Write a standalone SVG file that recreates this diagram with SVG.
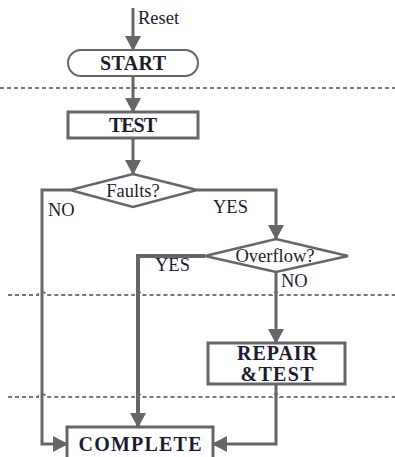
<svg xmlns="http://www.w3.org/2000/svg" width="395" height="457" viewBox="0 0 395 457">
<style>
.bg{fill:#fff}
.node{fill:#fff;stroke:#666;stroke-width:3}
.dia{fill:#fff;stroke:#666;stroke-width:2.5}
.con{fill:none;stroke:#666;stroke-width:3}
.sep{fill:none;stroke:#777;stroke-width:2;stroke-dasharray:4 3}
.t{font-family:"Liberation Serif","Times New Roman",serif;fill:#1c1c30}
.b{font-weight:bold;font-size:20px;text-anchor:middle}
.n{font-size:18.5px}
</style>
<defs>
<marker id="arr" markerUnits="userSpaceOnUse" markerWidth="16" markerHeight="16" refX="14" refY="8" orient="auto">
<path d="M0,0 L15,8 L0,16 z" fill="#666"/>
</marker>
</defs>
<rect class="bg" x="0" y="0" width="395" height="457"/>
<g id="separators">
<path class="sep" d="M0,88 H395"/>
<path class="sep" d="M8,295 H38 a4,3 0 0 1 8,0 H134 a4,3 0 0 1 8,0 H272 a4,3 0 0 1 8,0 H395"/>
<path class="sep" d="M8,397 H38 a4,3 0 0 1 8,0 H134 a4,3 0 0 1 8,0 H272 a4,3 0 0 1 8,0 H395"/>
</g>
<g id="connectors">
<path class="con" d="M133,8 V50" marker-end="url(#arr)"/>
<path class="con" d="M133,76 V112" marker-end="url(#arr)"/>
<path class="con" d="M133,138 V174" marker-end="url(#arr)"/>
<path class="con" d="M70,190 H42 V444 H67" marker-end="url(#arr)"/>
<path class="con" d="M197,190 H276 V239" marker-end="url(#arr)"/>
<path class="con" style="stroke-width:4" d="M205,256 H138 V427" marker-end="url(#arr)"/>
<path class="con" d="M276,272 V343" marker-end="url(#arr)"/>
<path class="con" d="M276,384 V444 H213" marker-end="url(#arr)"/>
<text class="t n" x="138" y="24">Reset</text>
<text class="t n" x="48" y="216">NO</text>
<text class="t n" x="213" y="213">YES</text>
<text class="t n" x="155" y="271">YES</text>
<text class="t n" x="281" y="287">NO</text>
</g>
<g id="start">
<rect class="node" style="stroke-width:2" x="68" y="50" width="130" height="26" rx="13"/>
<text class="t b" x="133" y="70" textLength="66">START</text>
</g>
<g id="test">
<rect class="node" x="68" y="112" width="130" height="26"/>
<text class="t b" x="133" y="132" textLength="48">TEST</text>
</g>
<g id="faults">
<path class="dia" d="M133,174 L197,190 L133,207 L70,190 z"/>
<text class="t n" x="133" y="197" text-anchor="middle">Faults?</text>
</g>
<g id="overflow">
<path class="dia" d="M276,239 L348,256 L276,272 L205,256 z"/>
<text class="t n" x="275" y="262" text-anchor="middle">Overflow?</text>
</g>
<g id="repair">
<rect class="node" x="208" y="343" width="137" height="41"/>
<text class="t b" x="277" y="360" textLength="80">REPAIR</text>
<text class="t b" x="277" y="381" textLength="73">&amp;TEST</text>
</g>
<g id="complete">
<rect class="node" x="67" y="427" width="146" height="40"/>
<text class="t b" x="140" y="451" textLength="123">COMPLETE</text>
</g>
</svg>
